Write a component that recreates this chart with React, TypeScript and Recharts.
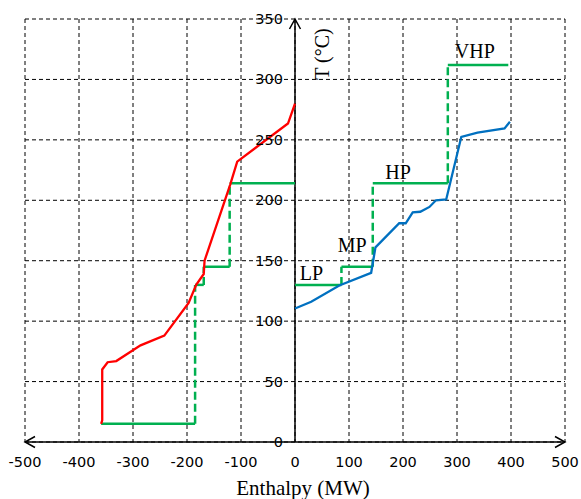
import { LineChart, Line, XAxis, YAxis, CartesianGrid, ReferenceLine, ReferenceDot } from 'recharts'

const W = 581
const H = 499
const MARGIN = { top: 19, right: 16, left: 0, bottom: 27 }
const Y_AXIS_W = 25
const PLOT_W = W - MARGIN.left - MARGIN.right - Y_AXIS_W
const ZERO_X = MARGIN.left + Y_AXIS_W + PLOT_W / 2

const xTicks = [-500, -400, -300, -200, -100, 0, 100, 200, 300, 400, 500]
const yTicks = [0, 50, 100, 150, 200, 250, 300, 350]

// hot composite curve (red)
const hotH = [-359, -357, -357, -347, -331, -286, -242, -197, -183, -169, -167.5, -120, -107, -13, 0]
const hotT = [15, 18, 60, 66, 67, 80, 88, 115, 130, 139, 150, 213, 232, 263.5, 280]

// cold composite curve (blue)
const coldH = [0, 30, 82, 141, 149, 193, 205, 218, 232, 249, 261, 280, 308, 338, 388, 398]
const coldT = [110.5, 116, 129.5, 140, 161, 181, 181, 190, 190.5, 194.5, 200, 200.7, 252.5, 256, 259.5, 265]

// hot side utility staircase (green)
const hotUtilH = [-359, -185, -169, -121, 0]
const hotUtilT = [15, 130, 145, 214]

// cold side steam levels (green)
const coldUtilH = [0, 86, 144, 283, 395]
const coldUtilT = [130, 145, 214, 312]
const levelNames = ['LP', 'MP', 'HP', 'VHP']
const levelLabelH = [30.5, 106, 191, 333]
const levelLabelT = [140, 163, 223.5, 323.5]

const GREEN = '#00B050'
const SERIF = '"Liberation Serif", "Times New Roman", serif'
const SANS = '"DejaVu Sans", Verdana, sans-serif'

const toPoints = (hs: number[], ts: number[]) => hs.map((h, i) => ({ h, t: ts[i] }))

function steps(hs: number[], ts: number[]) {
  const flat = ts.map((t, i) => [{ h: hs[i], t }, { h: hs[i + 1], t }])
  const rise = ts.slice(1).map((t, i) => [{ h: hs[i + 1], t: ts[i] }, { h: hs[i + 1], t }])
  return { flat, rise }
}

const hotSteps = steps(hotUtilH, hotUtilT)
const coldSteps = steps(coldUtilH, coldUtilT)

function YTick(p: any) {
  return (
    <text x={ZERO_X - 12} y={p.y} dy={5} textAnchor="end" fill="#000" fontSize={14.5} fontFamily={SANS}>
      {p.payload.value}
    </text>
  )
}

function XAxisLine(p: any) {
  const { x1, x2, y1 } = p
  const a = Math.min(x1, x2)
  const b = Math.max(x1, x2)
  return (
    <g stroke="#000" strokeWidth={1.5} fill="none">
      <line x1={a} y1={y1} x2={b} y2={y1} />
      <polyline points={`${a + 10},${y1 - 5.5} ${a},${y1} ${a + 10},${y1 + 5.5}`} />
      <polyline points={`${b - 10},${y1 - 5.5} ${b},${y1} ${b - 10},${y1 + 5.5}`} />
    </g>
  )
}

function YAxisLine(p: any) {
  const { x1, y1, y2 } = p
  const top = Math.min(y1, y2)
  const bottom = Math.max(y1, y2)
  const tx = x1 + 27
  const ty = top + 35
  return (
    <g>
      <g stroke="#000" strokeWidth={1.5} fill="none">
        <line x1={x1} y1={top} x2={x1} y2={bottom} />
        <polyline points={`${x1 - 5.5},${top + 10} ${x1},${top} ${x1 + 5.5},${top + 10}`} />
      </g>
      <text
        x={tx}
        y={ty}
        transform={`rotate(-90 ${tx} ${ty})`}
        textAnchor="middle"
        dominantBaseline="central"
        fill="#000"
        fontSize={20}
        fontFamily={SERIF}
      >
        T (°C)
      </text>
    </g>
  )
}

function LevelLabel(name: string) {
  return (p: any) => (
    <text x={p.cx} y={p.cy} textAnchor="middle" dominantBaseline="central" fill="#000" fontSize={20} fontFamily={SERIF}>
      {name}
    </text>
  )
}

export default function App() {
  return (
    <div style={{ position: 'absolute', left: 0, top: 0, background: '#fff' }}>
      <LineChart width={W} height={H} margin={MARGIN}>
        <CartesianGrid stroke="#000" strokeDasharray="4 3" strokeWidth={1} />
        <XAxis
          type="number"
          dataKey="h"
          domain={[-500, 500]}
          ticks={xTicks}
          axisLine={false}
          tickLine={false}
          tickMargin={9}
          tick={{ fill: '#000', fontSize: 14.5, fontFamily: SANS }}
          label={{
            content: (props: any) => {
              const vb = props.viewBox
              return (
                <text x={vb.x + vb.width / 2 + 8} y={vb.y + vb.height + 23} textAnchor="middle" fill="#000" fontSize={21} fontFamily={SERIF}>
                  Enthalpy (MW)
                </text>
              )
            },
          }}
        />
        <YAxis
          type="number"
          dataKey="t"
          domain={[0, 350]}
          ticks={yTicks}
          width={Y_AXIS_W}
          axisLine={false}
          tickLine={false}
          tick={<YTick />}
        />
        <ReferenceLine y={0} shape={XAxisLine} />
        <ReferenceLine x={0} shape={YAxisLine} />

        {hotSteps.flat.map((d, i) => (
          <Line key={'hf' + i} data={d} dataKey="t" type="linear" stroke={GREEN} strokeWidth={2.5} dot={false} isAnimationActive={false} />
        ))}
        {hotSteps.rise.map((d, i) => (
          <Line key={'hr' + i} data={d} dataKey="t" type="linear" stroke={GREEN} strokeWidth={2.5} strokeDasharray="8 4" dot={false} isAnimationActive={false} />
        ))}
        {coldSteps.flat.map((d, i) => (
          <Line key={'cf' + i} data={d} dataKey="t" type="linear" stroke={GREEN} strokeWidth={2.5} dot={false} isAnimationActive={false} />
        ))}
        {coldSteps.rise.map((d, i) => (
          <Line key={'cr' + i} data={d} dataKey="t" type="linear" stroke={GREEN} strokeWidth={2.5} strokeDasharray="8 4" dot={false} isAnimationActive={false} />
        ))}

        <Line data={toPoints(hotH, hotT)} dataKey="t" type="linear" stroke="#FF0000" strokeWidth={2.3} dot={false} isAnimationActive={false} />
        <Line data={toPoints(coldH, coldT)} dataKey="t" type="linear" stroke="#0070C0" strokeWidth={2.3} dot={false} isAnimationActive={false} />

        {levelNames.map((n, i) => (
          <ReferenceDot key={n} x={levelLabelH[i]} y={levelLabelT[i]} r={0} shape={LevelLabel(n)} />
        ))}
      </LineChart>
    </div>
  )
}
